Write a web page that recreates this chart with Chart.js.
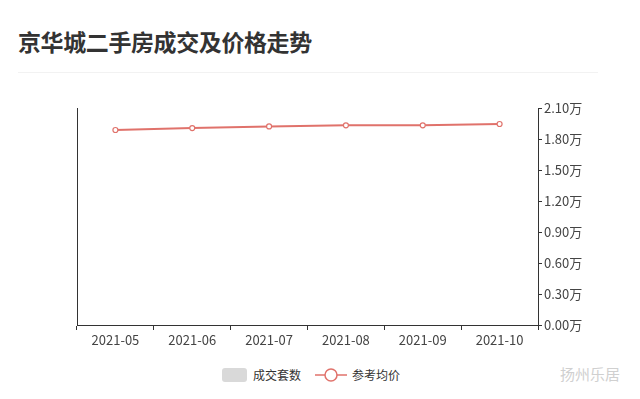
<!DOCTYPE html>
<html>
<head>
<meta charset="utf-8">
<script src="https://cdn.jsdelivr.net/npm/chart.js@4.4.0/dist/chart.umd.js"></script>
<style>
  body { margin: 0; width: 640px; height: 399px; background: #fff; position: relative; overflow: hidden;
         font-family: "Noto Sans CJK SC", "Noto Sans", sans-serif; }
  .title { position: absolute; left: 18px; top: 24px; font-size: 23px; font-weight: bold; color: #333; letter-spacing: -0.4px; }
  .sep { position: absolute; left: 18px; top: 72px; width: 580px; height: 1px; background: #f2f2f2; }
  .chart-box { position: absolute; left: 0; top: 95px; width: 640px; height: 260px; }
  .legend { position: absolute; top: 366px; left: 222px; font-size: 12px; color: #333; display: flex; align-items: center; }
  .legend .box { width: 25px; height: 14px; background: #d9d9d9; border-radius: 3px; margin-right: 6px; }
  .legend svg { margin: 0 5px 0 14px; }
  .mark { position: absolute; left: 560px; top: 363px; font-size: 15px; color: #d0d0d0; }
</style>
</head>
<body>
<div class="title">京华城二手房成交及价格走势</div>
<div class="sep"></div>
<div class="chart-box"><canvas id="chart"></canvas></div>
<div class="legend">
  <div class="box"></div><span>成交套数</span>
  <svg width="32" height="14"><line x1="0" y1="7" x2="32" y2="7" stroke="#e0726b" stroke-width="1.5"/><circle cx="16" cy="7" r="6" fill="#fff" stroke="#e0726b" stroke-width="1.5"/></svg>
  <span>参考均价</span>
</div>
<div class="mark">扬州乐居</div>
<script>
const months = ['2021-05', '2021-06', '2021-07', '2021-08', '2021-09', '2021-10'];
const dealCounts = [null, null, null, null, null, null];
const avgPrice = [18870, 19060, 19220, 19320, 19320, 19450];
const priceMin = 0;
const priceMax = 21000;
const priceStep = 3000;

const axisColor = '#333';
const tickFont = { family: '"Noto Sans CJK SC", sans-serif', size: 13 };

const ctx = document.getElementById('chart').getContext('2d');
new Chart(ctx, {
  data: {
    labels: months,
    datasets: [
      { type: 'bar', label: '成交套数', data: dealCounts, yAxisID: 'yCount', backgroundColor: '#d9d9d9' },
      {
        type: 'line', label: '参考均价', data: avgPrice, yAxisID: 'yPrice',
        borderColor: '#e0726b', borderWidth: 2, tension: 0,
        pointBackgroundColor: '#fff', pointBorderColor: '#e0726b', pointBorderWidth: 1.2, pointRadius: 2.5
      }
    ]
  },
  options: {
    responsive: true,
    maintainAspectRatio: false,
    animation: false,
    layout: { padding: { left: 77, top: 13, right: 0, bottom: 0 } },
    plugins: { legend: { display: false }, tooltip: { enabled: false } },
    scales: {
      x: {
        offset: true,
        grid: { offset: true, drawOnChartArea: false, drawTicks: true, tickLength: 5, color: axisColor },
        border: { color: axisColor, width: 1 },
        ticks: { color: '#444', font: tickFont, padding: 2, maxRotation: 0 },
        afterFit: s => { s.height = 30; }
      },
      yCount: {
        position: 'left',
        min: 0, max: 10,
        grid: { display: false },
        border: { display: true, color: axisColor, width: 1 },
        ticks: { display: false },
        afterFit: s => { s.width = 0; }
      },
      yPrice: {
        position: 'right',
        min: priceMin, max: priceMax,
        grid: { drawOnChartArea: false, drawTicks: true, tickLength: 4, color: axisColor },
        border: { color: axisColor, width: 1 },
        ticks: {
          stepSize: priceStep, color: '#444', font: tickFont, padding: 2,
          callback: v => (v / 10000).toFixed(2) + '万'
        },
        afterFit: s => { s.width = 102; }
      }
    }
  }
});
</script>
</body>
</html>
